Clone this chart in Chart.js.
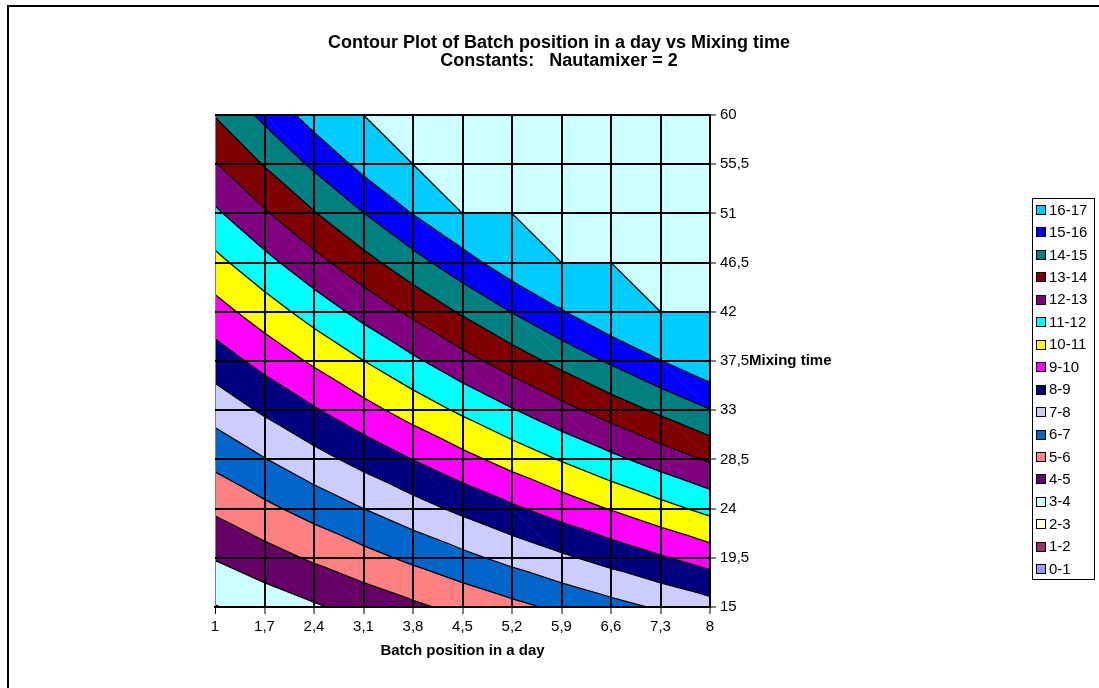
<!DOCTYPE html>
<html><head><meta charset="utf-8">
<script src="https://cdn.jsdelivr.net/npm/chart.js@4.4.1/dist/chart.umd.min.js"></script>
<style>html,body{margin:0;padding:0;background:#fff;}canvas{display:block;}</style>
</head><body>
<canvas id="c" width="1099" height="688"></canvas>
<script>
// ---- data ----
const xCategories = [1, 1.7, 2.4, 3.1, 3.8, 4.5, 5.2, 5.9, 6.6, 7.3, 8];
const yCategories = [15, 19.5, 24, 28.5, 33, 37.5, 42, 46.5, 51, 55.5, 60];
// one row per Mixing time (15 -> 60), one value per Batch position (1 -> 8)
const z15   = [2.95, 3.41, 3.88, 4.34, 4.81, 5.27, 5.74, 6.20, 6.67, 7.13, 7.60];
const z19_5 = [4.06, 4.60, 5.14, 5.67, 6.21, 6.75, 7.29, 7.83, 8.36, 8.90, 9.44];
const z24   = [5.17, 5.78, 6.39, 7.00, 7.61, 8.23, 8.84, 9.45, 10.06, 10.67, 11.28];
const z28_5 = [6.28, 6.96, 7.65, 8.33, 9.02, 9.70, 10.38, 11.07, 11.75, 12.44, 13.12];
const z33   = [7.39, 8.15, 8.90, 9.66, 10.42, 11.18, 11.93, 12.69, 13.45, 14.20, 14.96];
const z37_5 = [8.50, 9.33, 10.16, 10.99, 11.82, 12.65, 13.48, 14.31, 15.14, 15.97, 16.80];
const z42   = [9.61, 10.51, 11.42, 12.32, 13.22, 14.13, 15.03, 15.93, 16.84, 17.74, 18.64];
const z46_5 = [10.72, 11.70, 12.67, 13.65, 14.63, 15.60, 16.58, 17.55, 18.53, 19.51, 20.48];
const z51   = [11.83, 12.88, 13.93, 14.98, 16.03, 17.08, 18.13, 19.18, 20.23, 21.27, 22.32];
const z55_5 = [12.94, 14.06, 15.19, 16.31, 17.43, 18.55, 19.68, 20.80, 21.92, 23.04, 24.17];
const z60   = [14.05, 15.25, 16.44, 17.64, 18.83, 20.03, 21.22, 22.42, 23.61, 24.81, 26.01];
const zRows = [z15, z19_5, z24, z28_5, z33, z37_5, z42, z46_5, z51, z55_5, z60];

const bandLabels = ['0-1','1-2','2-3','3-4','4-5','5-6','6-7','7-8','8-9','9-10','10-11','11-12','12-13','13-14','14-15','15-16','16-17'];
const bandColors = ['#9999FF','#993366','#FFFFCC','#CCFFFF','#660066','#FF8080','#0066CC','#CCCCFF','#000080','#FF00FF','#FFFF00','#00FFFF','#800080','#800000','#008080','#0000FF','#00CCFF'];
const overColor = '#CCFFFF';
const zMax = 17;

const titleLines = ['Contour Plot of Batch position in a day vs Mixing time', 'Constants:   Nautamixer = 2'];
const xTitle = 'Batch position in a day';
const yTitle = 'Mixing time';

const FONT = "'Liberation Sans', Arial, sans-serif";

function clip(poly, level, keepAbove) {
  const out = [];
  for (let k = 0; k < poly.length; k++) {
    const a = poly[k], b = poly[(k + 1) % poly.length];
    const ina = keepAbove ? a.z >= level : a.z <= level;
    const inb = keepAbove ? b.z >= level : b.z <= level;
    if (ina) out.push(a);
    if (ina !== inb) {
      const t = (level - a.z) / (b.z - a.z);
      out.push({x: a.x + t * (b.x - a.x), y: a.y + t * (b.y - a.y), z: level});
    }
  }
  return out;
}

const contourPlugin = {
  id: 'contour',
  beforeDatasetsDraw(chart) {
    const {ctx, chartArea: ca, scales} = chart;
    const xs = scales.x, ys = scales.y;
    const px = p => [xs.getPixelForValue(p.x), ys.getPixelForValue(p.y)];
    const tris = [];
    const v = (i, j) => ({x: xCategories[i], y: yCategories[j], z: Math.min(zMax, zRows[j][i])});
    for (let j = 0; j < yCategories.length - 1; j++) {
      for (let i = 0; i < xCategories.length - 1; i++) {
        const BL = v(i, j), BR = v(i + 1, j), TR = v(i + 1, j + 1), TL = v(i, j + 1);
        tris.push([TL, BL, BR], [TL, TR, BR]);
      }
    }
    ctx.save();
    ctx.beginPath();
    ctx.rect(ca.left, ca.top, ca.right - ca.left, ca.bottom - ca.top);
    ctx.clip();
    const fillPoly = (poly, color) => {
      const pts = poly.map(px);
      let area = 0;
      for (let k = 0; k < pts.length; k++) {
        const a = pts[k], b = pts[(k + 1) % pts.length];
        area += a[0] * b[1] - b[0] * a[1];
      }
      if (Math.abs(area) < 0.05) return;
      ctx.beginPath();
      pts.forEach((p, k) => k ? ctx.lineTo(p[0], p[1]) : ctx.moveTo(p[0], p[1]));
      ctx.closePath();
      ctx.fillStyle = color; ctx.strokeStyle = color; ctx.lineWidth = 0.7;
      ctx.fill(); ctx.stroke();
    };
    for (const t of tris) {
      if (t.every(p => p.z >= zMax)) { fillPoly(t, overColor); continue; }
      for (let b = 0; b < bandColors.length; b++) {
        let poly = clip(t, b, true);
        if (poly.length < 3) continue;
        poly = clip(poly, b + 1, false);
        if (poly.length >= 3) fillPoly(poly, bandColors[b]);
      }
    }
    // contour lines
    ctx.strokeStyle = '#000';
    ctx.lineWidth = 1.3;
    ctx.lineJoin = 'round';
    for (const t of tris) {
      for (let L = 1; L <= zMax; L++) {
        const pts = [];
        for (let k = 0; k < 3; k++) {
          const a = t[k], b = t[(k + 1) % 3];
          if ((a.z - L) * (b.z - L) < 0) {
            const s = (L - a.z) / (b.z - a.z);
            pts.push({x: a.x + s * (b.x - a.x), y: a.y + s * (b.y - a.y)});
          }
          if (a.z === L) pts.push({x: a.x, y: a.y});
        }
        if (pts.length === 2) {
          const p1 = px(pts[0]), p2 = px(pts[1]);
          ctx.beginPath(); ctx.moveTo(p1[0], p1[1]); ctx.lineTo(p2[0], p2[1]); ctx.stroke();
        }
      }
    }
    ctx.restore();
  },
  afterDraw(chart) {
    const {ctx, chartArea: ca, scales} = chart;
    ctx.save();
    // outer frame
    ctx.strokeStyle = '#000'; ctx.lineWidth = 2;
    ctx.strokeRect(8, 6, 1300, 900);
    // title
    ctx.fillStyle = '#000';
    ctx.textAlign = 'center'; ctx.textBaseline = 'middle';
    ctx.font = 'bold 18px ' + FONT;
    ctx.fillText(titleLines[0], 559, 43);
    ctx.fillText(titleLines[1], 559, 61);
    // x title
    ctx.font = 'bold 15px ' + FONT;
    ctx.fillText(xTitle, (ca.left + ca.right) / 2, 651);
    // y title next to the 37,5 tick label
    ctx.textAlign = 'left';
    const yMid = scales.y.getPixelForValue(yCategories[5]);
    ctx.fillText(yTitle, 749, yMid);
    // legend
    const lx = 1032, ly = 198, lw = 62, lh = 381;
    ctx.lineWidth = 1; ctx.strokeStyle = '#000';
    ctx.strokeRect(lx + 0.5, ly + 0.5, lw, lh);
    ctx.font = '15px ' + FONT;
    ctx.textBaseline = 'middle';
    const n = bandLabels.length;
    for (let k = 0; k < n; k++) {
      const b = n - 1 - k;
      const cy = 210 + k * 22.45;
      ctx.fillStyle = bandColors[b];
      ctx.fillRect(1036.5, Math.round(cy) - 4.5, 9, 9);
      ctx.strokeRect(1036.5, Math.round(cy) - 4.5, 9, 9);
      ctx.fillStyle = '#000';
      ctx.fillText(bandLabels[b], 1049, cy + 0.5);
    }
    ctx.restore();
  }
};

const fmt = v => String(Math.round(v * 10) / 10).replace('.', ',');

new Chart(document.getElementById('c'), {
  type: 'scatter',
  data: {datasets: []},
  options: {
    responsive: false,
    animation: false,
    devicePixelRatio: 1,
    layout: {padding: {left: 215, top: 115, right: 0, bottom: 0}},
    plugins: {legend: {display: false}, title: {display: false}, tooltip: {enabled: false}},
    scales: {
      x: {
        type: 'linear', position: 'bottom', min: 1, max: 8,
        afterBuildTicks: s => { s.ticks = xCategories.map(v => ({value: v})); },
        afterFit: s => { s.height = 81; },
        ticks: {callback: v => fmt(v), color: '#000', font: {family: FONT, size: 15}, padding: 4, maxRotation: 0, autoSkip: false},
        grid: {color: c => c.index === 0 ? '#808080' : '#000', lineWidth: c => c.index === 0 ? 1 : 2, tickLength: 7, tickColor: '#000', tickWidth: 1, z: 1},
        border: {display: true, color: '#000', width: 2, z: 1}
      },
      y: {
        type: 'linear', position: 'right', min: 15, max: 60,
        afterBuildTicks: s => { s.ticks = yCategories.map(v => ({value: v})); },
        afterFit: s => { s.width = 389; },
        ticks: {callback: v => fmt(v), color: '#000', font: {family: FONT, size: 15}, padding: 4, autoSkip: false},
        grid: {color: '#000', lineWidth: 2, tickLength: 6, tickColor: '#000', tickWidth: 1, z: 1},
        border: {display: true, color: '#000', width: 2, z: 1}
      }
    }
  },
  plugins: [contourPlugin]
});
</script>
</body></html>
